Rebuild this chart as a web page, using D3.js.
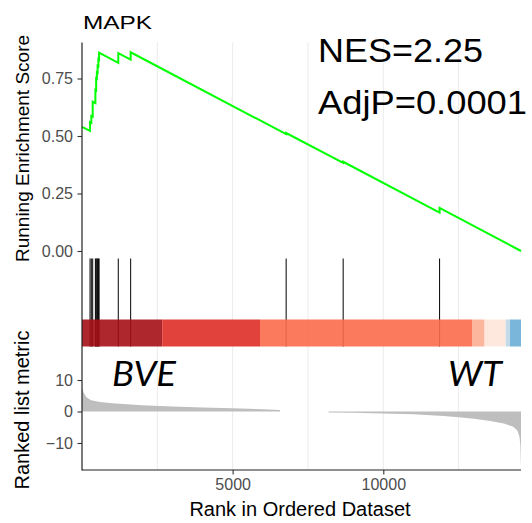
<!DOCTYPE html>
<html>
<head>
<meta charset="utf-8">
<script src="https://cdn.jsdelivr.net/npm/d3@7"></script>
<style>
  body { margin: 0; background: #fff; }
  text { font-family: "Liberation Sans", Arial, sans-serif; }
</style>
</head>
<body>
<div id="chart"></div>
<script>
// running enrichment score (rank, score)
const esRank  = [1, 268, 268, 310, 310, 356, 356, 445, 445, 470, 470, 495, 495, 520, 520, 545, 545, 568, 568,
                 1205, 1205, 1616, 1616, 6776, 6776, 8668, 8668, 11868, 11868, 14570];
const esScore = [0.540, 0.522, 0.560, 0.557, 0.587, 0.584, 0.649, 0.643, 0.700, 0.698, 0.751, 0.749, 0.777,
                 0.775, 0.805, 0.803, 0.834, 0.832, 0.862, 0.818, 0.860, 0.832, 0.864, 0.508, 0.513,
                 0.383, 0.388, 0.167, 0.187, 0.000];

// genes of the set in the ranked list
const hitRanks = [268, 310, 356, 445, 470, 495, 520, 545, 568, 1205, 1616, 6776, 8668, 11868];

// ranked list metric
const metricRank  = [1, 50, 150, 300, 600, 1000, 2000, 3000, 4000, 5000, 6000, 6570, 6580,
                     8180, 8190, 9000, 10000, 11000, 12000, 12500, 13000, 13500, 14000, 14300,
                     14450, 14520, 14550, 14565, 14570];
const metricValue = [7.8, 6.0, 4.5, 3.6, 3.0, 2.6, 2.0, 1.6, 1.3, 1.0, 0.7, 0.5, 0,
                     0, -0.3, -0.4, -0.6, -0.9, -1.4, -1.8, -2.3, -2.9, -3.8, -4.8,
                     -6.0, -8.0, -11, -16.5, -17.5];

// colour strip: bin edges in rank and palette
const barBreaks = [1, 2665, 5908, 12960, 13360, 14063, 14205, 14570];
const barColors = ["#A50F15", "#DE2D26", "#FB6A4A", "#FCAE91", "#FEE5D9", "#BDD7E7", "#6BAED6"];

const esTicks = [0, 0.25, 0.5, 0.75];
const metricTicks = [-10, 0, 10];
const rankTicks = [5000, 10000];
const gridRanks = [2500, 5000, 7500, 10000, 12500];
const nRanks = 14570;

const svg = d3.select("#chart").append("svg")
    .attr("width", 532)
    .attr("height", 523);

const left = 82, right = 521;
const topY = 42.4, bottomY = 470;
const hitTop = 258.5, barTop = 319.5, barBottom = 346.5;

const x = d3.scaleLinear().domain([1, nRanks]).range([left, right]);
const yEs = d3.scaleLinear().domain([0, 0.75]).range([251, 78.5]);
const yMetric = d3.scaleLinear().domain([-10, 10]).range([443, 380]);

// vertical grid
svg.append("g")
    .selectAll("line")
    .data(gridRanks)
    .enter().append("line")
    .attr("x1", d => x(d)).attr("x2", d => x(d))
    .attr("y1", topY).attr("y2", bottomY)
    .attr("stroke", "#EBEBEB")
    .attr("stroke-width", 1);

// ranked metric area
const area = d3.area()
    .x((d, i) => x(metricRank[i]))
    .y0(yMetric(0))
    .y1(d => yMetric(d));
svg.append("path")
    .datum(metricValue)
    .attr("d", area)
    .attr("fill", "#BEBEBE");

// hit lines
svg.append("g")
    .selectAll("line")
    .data(hitRanks)
    .enter().append("line")
    .attr("x1", d => x(d)).attr("x2", d => x(d))
    .attr("y1", hitTop).attr("y2", barBottom)
    .attr("stroke", "#000")
    .attr("stroke-width", 1);

// colour strip
svg.append("g")
    .selectAll("rect")
    .data(barColors)
    .enter().append("rect")
    .attr("x", (d, i) => x(barBreaks[i]))
    .attr("width", (d, i) => x(barBreaks[i + 1]) - x(barBreaks[i]))
    .attr("y", barTop)
    .attr("height", barBottom - barTop)
    .attr("fill", d => d)
    .attr("fill-opacity", 0.9);

// running score line
const line = d3.line()
    .x((d, i) => x(esRank[i]))
    .y(d => yEs(d));
svg.append("path")
    .datum(esScore)
    .attr("d", line)
    .attr("fill", "none")
    .attr("stroke", "#00FF00")
    .attr("stroke-width", 2);

// axes
const yAxisEs = svg.append("g")
    .attr("transform", "translate(" + left + ",0)")
    .call(d3.axisLeft(yEs).tickValues(esTicks).tickFormat(d3.format(".2f")).tickSize(4.5).tickSizeOuter(0));
const yAxisMetric = svg.append("g")
    .attr("transform", "translate(" + left + ",0)")
    .call(d3.axisLeft(yMetric).tickValues(metricTicks).tickFormat(d3.format("d")).tickSize(4.5).tickSizeOuter(0));
const xAxis = svg.append("g")
    .attr("transform", "translate(0," + bottomY + ")")
    .call(d3.axisBottom(x).tickValues(rankTicks).tickFormat(d3.format("d")).tickSize(4.5).tickSizeOuter(0));

[yAxisEs, yAxisMetric, xAxis].forEach(a => {
    a.select(".domain").remove();
    a.selectAll(".tick line").attr("stroke", "#333").attr("stroke-width", 1.1);
    a.selectAll(".tick text")
        .attr("fill", "#4D4D4D")
        .style("font-size", "16px")
        .style("font-family", "Liberation Sans, Arial, sans-serif");
});
yAxisEs.selectAll(".tick text").attr("x", -9);
yAxisMetric.selectAll(".tick text").attr("x", -9);
xAxis.selectAll(".tick text").attr("y", 9);

// axis lines
svg.append("line")
    .attr("x1", left).attr("x2", left)
    .attr("y1", topY).attr("y2", bottomY + 0.5)
    .attr("stroke", "#222").attr("stroke-width", 1.2);
svg.append("line")
    .attr("x1", left).attr("x2", right)
    .attr("y1", bottomY).attr("y2", bottomY)
    .attr("stroke", "#222").attr("stroke-width", 1.2);

// titles
svg.append("text")
    .attr("x", 83).attr("y", 29)
    .attr("textLength", 69).attr("lengthAdjust", "spacingAndGlyphs")
    .style("font-size", "19px")
    .text("MAPK");

svg.append("text")
    .attr("transform", "translate(29,148.5) rotate(-90)")
    .attr("text-anchor", "middle")
    .style("font-size", "19px")
    .text("Running Enrichment Score");

svg.append("text")
    .attr("transform", "translate(29,410) rotate(-90)")
    .attr("text-anchor", "middle")
    .style("font-size", "20px")
    .text("Ranked list metric");

svg.append("text")
    .attr("x", 300).attr("y", 516)
    .attr("text-anchor", "middle")
    .style("font-size", "20px")
    .text("Rank in Ordered Dataset");

// annotations
svg.append("text")
    .attr("x", 318).attr("y", 62)
    .attr("textLength", 165).attr("lengthAdjust", "spacingAndGlyphs")
    .style("font-size", "33px")
    .text("NES=2.25");
svg.append("text")
    .attr("x", 318).attr("y", 114)
    .attr("textLength", 209).attr("lengthAdjust", "spacingAndGlyphs")
    .style("font-size", "33px")
    .text("AdjP=0.0001");

svg.append("text")
    .attr("x", 112).attr("y", 386)
    .attr("textLength", 64).attr("lengthAdjust", "spacingAndGlyphs")
    .style("font-family", "Lato, 'Open Sans', sans-serif")
    .style("font-style", "italic")
    .style("font-size", "35px")
    .text("BVE");
svg.append("text")
    .attr("x", 448).attr("y", 386)
    .attr("textLength", 54).attr("lengthAdjust", "spacingAndGlyphs")
    .style("font-family", "Lato, 'Open Sans', sans-serif")
    .style("font-style", "italic")
    .style("font-size", "35px")
    .text("WT");
</script>
</body>
</html>
